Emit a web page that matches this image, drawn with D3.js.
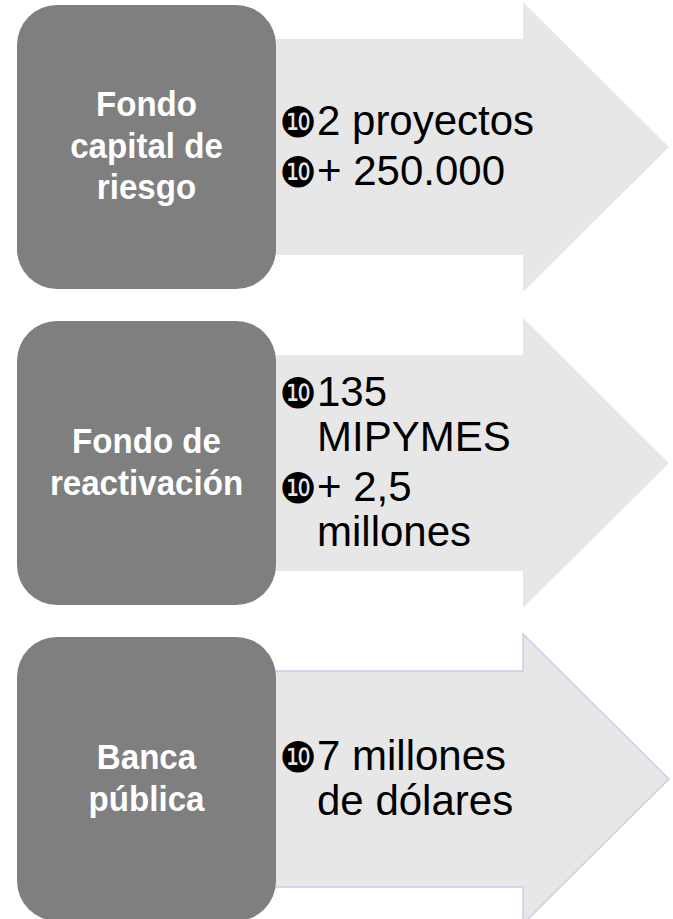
<!DOCTYPE html>
<html>
<head>
<meta charset="utf-8">
<script src="https://cdn.jsdelivr.net/npm/d3@7"></script>
<style>
  body { margin: 0; background: #fff; }
</style>
</head>
<body>
<div id="chart"></div>
<script>
// categories (left boxes), each split into its lines
const categories = ["Fondo capital de riesgo", "Fondo de reactivación", "Banca pública"];
const categoryLines = [
    ["Fondo", "capital de", "riesgo"],
    ["Fondo de", "reactivación"],
    ["Banca", "pública"]
];
// bullet items in each arrow, each item split into lines
const details = [
    [["2 proyectos"], ["+ 250.000"]],
    [["135", "MIPYMES"], ["+ 2,5", "millones"]],
    [["7 millones", "de dólares"]]
];
const bulletChar = "\u277F";

const width = 673, height = 919;

const svg = d3.select("#chart")
  .append("svg")
    .attr("width", width)
    .attr("height", height);

// rows
const y = d3.scaleBand()
    .domain(categories)
    .range([5, 921])
    .paddingInner(0.1013)
    .paddingOuter(0);

const boxX = 17, boxW = 259, radius = 40;
const headX = 523, tipX = 669, bodyX = 250;

// arrows first, boxes go on top
categories.forEach((cat, i) => {
    const top = y(cat) - 3;
    const h = y.bandwidth() + 6;
    const inset = 37;
    const pts = [
        [bodyX, top + inset],
        [headX, top + inset],
        [headX, top],
        [tipX, top + h / 2],
        [headX, top + h],
        [headX, top + h - inset],
        [bodyX, top + h - inset]
    ];
    svg.append("path")
        .attr("d", d3.line()(pts) + "Z")
        .attr("fill", "#e7e7e7")
        .attr("stroke", i === 2 ? "#c8d0e8" : "none")
        .attr("stroke-width", 1.5);
});

const row = svg.selectAll("g.row")
  .data(categories)
  .join("g")
    .attr("class", "row");

row.append("rect")
    .attr("x", boxX)
    .attr("y", d => y(d))
    .attr("width", boxW)
    .attr("height", y.bandwidth())
    .attr("rx", radius)
    .attr("fill", "#7f7f7f");

// box labels
const lh = 41.5;
row.each(function (d, i) {
    const lines = categoryLines[i];
    const cy = y(d) + y.bandwidth() / 2;
    const cx = boxX + boxW / 2;
    const g = d3.select(this).append("g")
        .attr("transform", `translate(${cx},0) scale(0.92,1)`);
    g.selectAll("text")
      .data(lines)
      .join("text")
        .attr("x", 0)
        .attr("y", (t, j) => cy + (j - (lines.length - 1) / 2) * lh + 11)
        .attr("text-anchor", "middle")
        .attr("font-family", "'Liberation Sans', Arial, sans-serif")
        .attr("font-weight", "bold")
        .attr("font-size", 36)
        .attr("fill", "#fff")
        .text(t => t);
});

// arrow texts
const lineH = 45, paraGap = 5;
const bulletX = 298, textX = 317;
row.each(function (d, i) {
    const items = details[i];
    const flat = [];
    let off = 0;
    items.forEach((lines, k) => {
        if (k > 0) off += paraGap;
        lines.forEach((t, j) => {
            flat.push({text: t, first: j === 0, off: off});
            off += lineH;
        });
    });
    const total = off - lineH;
    const cy = y(d) + y.bandwidth() / 2;
    const base0 = cy - total / 2 + 13;
    const g = d3.select(this);
    g.selectAll("text.item")
      .data(flat)
      .join("text")
        .attr("class", "item")
        .attr("x", textX)
        .attr("y", f => base0 + f.off)
        .attr("font-family", "'Liberation Sans', Arial, sans-serif")
        .attr("font-size", 42)
        .attr("fill", "#000")
        .text(f => f.text);
    g.selectAll("text.bullet")
      .data(flat.filter(f => f.first))
      .join("text")
        .attr("class", "bullet")
        .attr("x", bulletX)
        .attr("y", f => base0 + f.off + 2)
        .attr("text-anchor", "middle")
        .attr("font-family", "'DejaVu Sans', sans-serif")
        .attr("font-size", 42)
        .attr("fill", "#000")
        .text(bulletChar);
});
</script>
</body>
</html>
